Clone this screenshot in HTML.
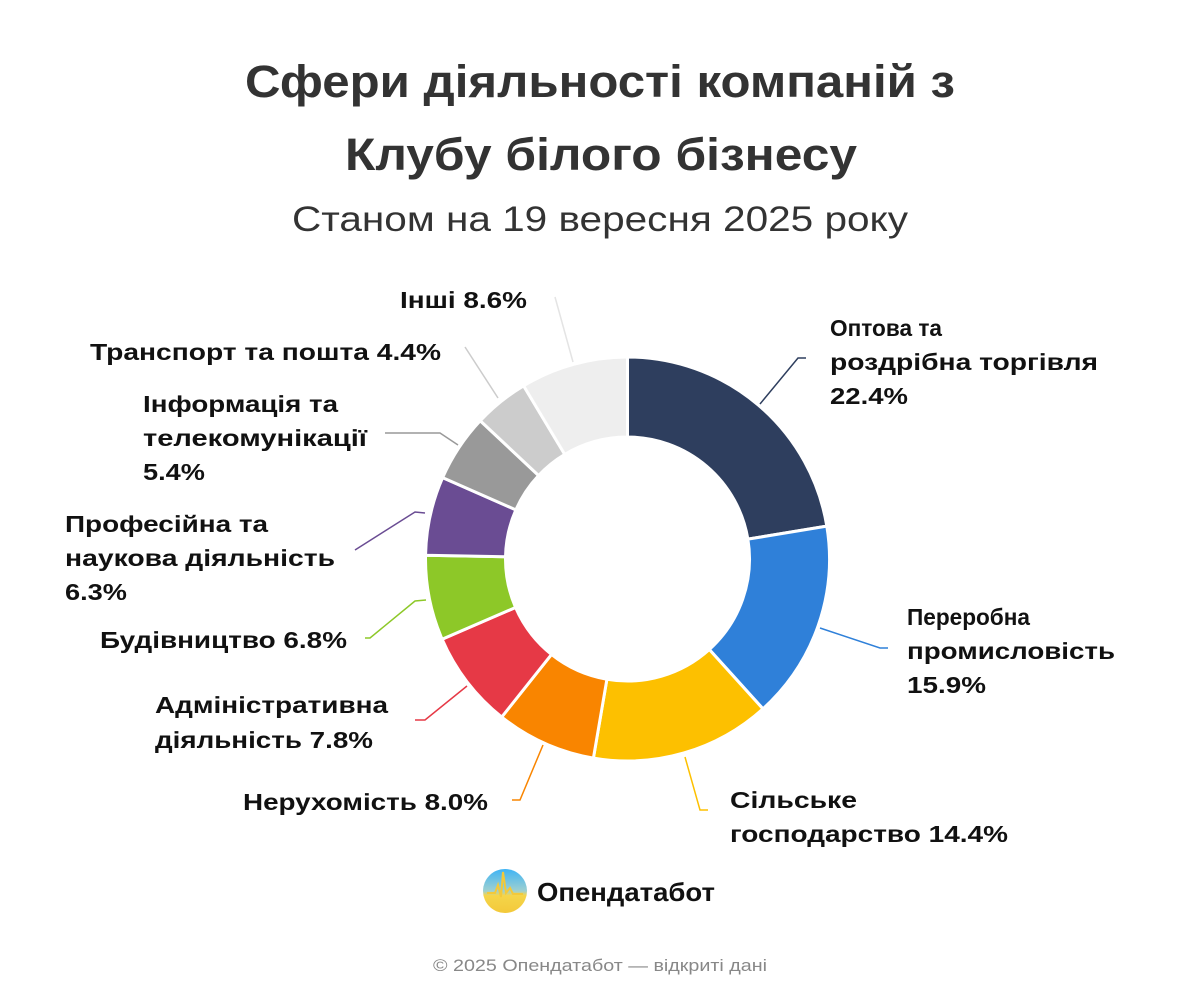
<!DOCTYPE html>
<html><head><meta charset="utf-8"><style>
body{margin:0;background:#fff;}
svg{display:block;font-family:"Liberation Sans",sans-serif;}
.l{font-size:23px;font-weight:bold;fill:#111;}
</style></head><body>
<svg id="s" width="1200" height="1000" viewBox="0 0 1200 1000">
<defs><linearGradient id="g" x1="0" y1="0" x2="0" y2="1"><stop offset="0" stop-color="#3fb4f5"/><stop offset="0.5" stop-color="#9fd0d0"/><stop offset="0.6" stop-color="#f5d54a"/><stop offset="1" stop-color="#f3c93a"/></linearGradient></defs>
<text x="245" y="97" textLength="710" lengthAdjust="spacingAndGlyphs" font-size="45" font-weight="bold" fill="#333">Сфери діяльності компаній з</text>
<text x="345" y="170" textLength="512" lengthAdjust="spacingAndGlyphs" font-size="45" font-weight="bold" fill="#333">Клубу білого бізнесу</text>
<text x="292" y="231" textLength="616" lengthAdjust="spacingAndGlyphs" font-size="35" fill="#333">Станом на 19 вересня 2025 року</text>
<g id="ring"></g>
<g fill="none" stroke-width="1.5">
<polyline points="760,404 798,358 806,358" stroke="#2e3e5e"/>
<polyline points="820,628 880,648 888,648" stroke="#2f80d9"/>
<polyline points="685,757 700,810 708,810" stroke="#fdc000"/>
<polyline points="543,745 520,800 512,800" stroke="#f98500"/>
<polyline points="467,686 425,720 415,720" stroke="#e63946"/>
<polyline points="426,600 415,601 370,638 365,638" stroke="#8dc828"/>
<polyline points="425,513 415,512 355,550" stroke="#6a4c93"/>
<polyline points="458,445 440,433 385,433" stroke="#999"/>
<polyline points="498,398 465,347" stroke="#ccc"/>
<polyline points="573,362 555,297" stroke="#e4e4e4"/>
</g>
<g class="l" lengthAdjust="spacingAndGlyphs">
<text class="l" x="830" y="336" textLength="112" lengthAdjust="spacingAndGlyphs">Оптова та</text>
<text class="l" x="830" y="370" textLength="268" lengthAdjust="spacingAndGlyphs">роздрібна торгівля</text>
<text class="l" x="830" y="404" textLength="78" lengthAdjust="spacingAndGlyphs">22.4%</text>
<text class="l" x="907" y="625" textLength="123" lengthAdjust="spacingAndGlyphs">Переробна</text>
<text class="l" x="907" y="659" textLength="208" lengthAdjust="spacingAndGlyphs">промисловість</text>
<text class="l" x="907" y="693" textLength="79" lengthAdjust="spacingAndGlyphs">15.9%</text>
<text class="l" x="730" y="808" textLength="127" lengthAdjust="spacingAndGlyphs">Сільське</text>
<text class="l" x="730" y="842" textLength="278" lengthAdjust="spacingAndGlyphs">господарство 14.4%</text>
<text class="l" x="243" y="810" textLength="245" lengthAdjust="spacingAndGlyphs">Нерухомість 8.0%</text>
<text class="l" x="155" y="713" textLength="233" lengthAdjust="spacingAndGlyphs">Адміністративна</text>
<text class="l" x="155" y="748" textLength="218" lengthAdjust="spacingAndGlyphs">діяльність 7.8%</text>
<text class="l" x="100" y="648" textLength="247" lengthAdjust="spacingAndGlyphs">Будівництво 6.8%</text>
<text class="l" x="65" y="532" textLength="203" lengthAdjust="spacingAndGlyphs">Професійна та</text>
<text class="l" x="65" y="566" textLength="270" lengthAdjust="spacingAndGlyphs">наукова діяльність</text>
<text class="l" x="65" y="600" textLength="62" lengthAdjust="spacingAndGlyphs">6.3%</text>
<text class="l" x="143" y="412" textLength="195" lengthAdjust="spacingAndGlyphs">Інформація та</text>
<text class="l" x="143" y="446" textLength="224" lengthAdjust="spacingAndGlyphs">телекомунікації</text>
<text class="l" x="143" y="480" textLength="62" lengthAdjust="spacingAndGlyphs">5.4%</text>
<text class="l" x="90" y="360" textLength="351" lengthAdjust="spacingAndGlyphs">Транспорт та пошта 4.4%</text>
<text class="l" x="400" y="308" textLength="127" lengthAdjust="spacingAndGlyphs">Інші 8.6%</text>
</g>
<circle cx="505" cy="891" r="22" fill="url(#g)"/>
<polyline points="487,893 495,893 498,885 501,897 503,872 506,893 510,888 513,894 523,894" fill="none" stroke="#f3c93a" stroke-width="2"/>
<text x="537" y="901" font-size="26" font-weight="bold" fill="#111" textLength="178" lengthAdjust="spacingAndGlyphs">Опендатабот</text>
<text x="433" y="971" font-size="17" fill="#888" textLength="334" lengthAdjust="spacingAndGlyphs">© 2025 Опендатабот — відкриті дані</text>
</svg>
<script>
var v=[22.4,15.9,14.4,8.0,7.8,6.8,6.3,5.4,4.4,8.6];
var c=["#2e3e5e","#2f80d9","#fdc000","#f98500","#e63946","#8dc828","#6a4c93","#999999","#cccccc","#eeeeee"];
var cx=627.5,cy=559,R=202,r=122,a=0,h="";
function p(rad,t){return (cx+rad*Math.sin(t)).toFixed(2)+","+(cy-rad*Math.cos(t)).toFixed(2);}
for(var i=0;i<v.length;i++){var a0=a*Math.PI/50,a1=(a+v[i])*Math.PI/50;a+=v[i];
var lg=(a1-a0)>Math.PI?1:0;
h+='<path d="M'+p(R,a0)+' A'+R+','+R+' 0 '+lg+' 1 '+p(R,a1)+' L'+p(r,a1)+' A'+r+','+r+' 0 '+lg+' 0 '+p(r,a0)+' Z" fill="'+c[i]+'" stroke="#fff" stroke-width="3" stroke-linejoin="round"/>';}
document.getElementById("ring").innerHTML=h;
</script>
</body></html>
